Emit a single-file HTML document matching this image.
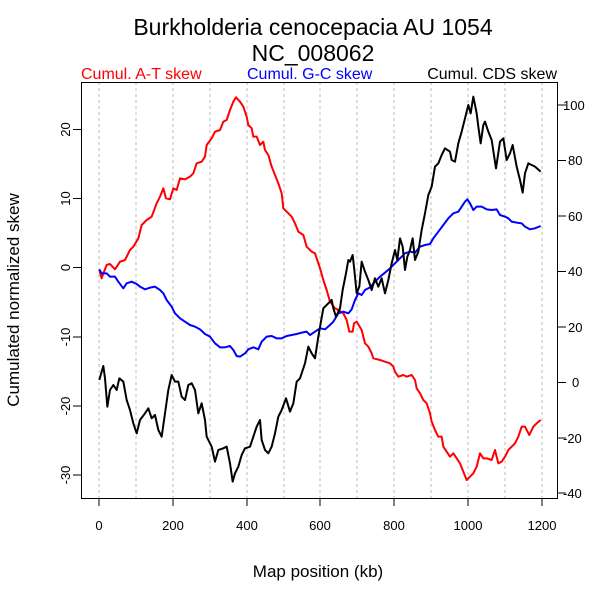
<!DOCTYPE html>
<html><head><meta charset="utf-8"><style>
html,body{margin:0;padding:0;background:#fff}
svg{display:block}
text{font-family:"Liberation Sans",sans-serif}
</style></head><body>
<svg width="600" height="600" viewBox="0 0 600 600">
<rect width="600" height="600" fill="#fff"/>
<g stroke="#bbb" stroke-width="1" stroke-dasharray="3,3">
<line x1="99" y1="82" x2="99" y2="498"/><line x1="136" y1="82" x2="136" y2="498"/><line x1="173" y1="82" x2="173" y2="498"/><line x1="210" y1="82" x2="210" y2="498"/><line x1="247" y1="82" x2="247" y2="498"/><line x1="284" y1="82" x2="284" y2="498"/><line x1="320" y1="82" x2="320" y2="498"/><line x1="357" y1="82" x2="357" y2="498"/><line x1="394" y1="82" x2="394" y2="498"/><line x1="431" y1="82" x2="431" y2="498"/><line x1="468" y1="82" x2="468" y2="498"/><line x1="505" y1="82" x2="505" y2="498"/><line x1="542" y1="82" x2="542" y2="498"/>
</g>
<g transform="translate(60,60) scale(0.33333)" fill="none" stroke-width="6" stroke-linejoin="round">
<polyline stroke="#f00" points="118,630 125,655 130,640 140,615 150,612 165,628 180,605 195,600 210,570 220,560 235,535 245,495 260,480 275,470 290,430 300,410 310,385 318,415 330,418 340,385 350,390 360,355 375,358 390,350 400,340 410,310 425,305 435,290 440,255 455,235 465,215 480,210 490,185 500,180 510,150 520,125 528,112 540,125 550,140 560,170 565,195 575,205 580,230 590,230 600,255 610,245 615,270 625,285 635,320 645,345 655,370 665,400 670,445 685,460 695,470 705,490 715,515 730,525 740,560 755,575 765,580 780,625 790,660 800,690 810,725 825,745 835,750 850,760 860,780 868,815 878,815 882,790 890,785 905,810 915,850 925,860 935,880 940,895 960,900 975,905 990,910 1000,920 1005,935 1015,950 1030,945 1040,950 1055,945 1065,960 1070,985 1080,1000 1090,1020 1100,1030 1110,1060 1115,1085 1125,1110 1135,1130 1145,1130 1150,1160 1160,1175 1170,1190 1180,1180 1190,1195 1200,1210 1210,1235 1220,1260 1230,1250 1240,1240 1250,1220 1260,1180 1270,1195 1280,1195 1295,1200 1305,1170 1315,1210 1325,1205 1335,1190 1345,1170 1355,1160 1365,1150 1375,1130 1385,1100 1395,1100 1408,1125 1420,1100 1430,1090 1442,1080"/>
<polyline stroke="#00f" points="118,628 125,640 140,640 150,650 165,650 175,665 190,685 200,670 215,665 230,672 240,680 255,688 270,683 285,680 300,690 310,700 320,720 335,740 345,760 360,775 375,785 390,795 405,800 420,808 435,822 450,830 465,850 480,862 495,862 510,858 520,870 530,888 540,890 555,880 565,868 580,862 595,868 605,845 620,830 635,828 650,835 665,835 680,828 695,825 710,822 725,818 740,815 750,825 765,815 780,805 795,808 810,795 820,785 835,760 850,755 865,760 875,748 885,720 895,700 905,705 915,690 930,682 945,665 960,650 975,638 990,625 1005,610 1020,595 1035,580 1050,575 1065,578 1080,560 1095,555 1110,552 1120,535 1135,515 1150,495 1165,475 1180,460 1195,455 1205,440 1215,425 1222,418 1230,430 1240,450 1250,440 1265,440 1280,448 1295,450 1310,448 1320,465 1335,470 1345,475 1355,485 1370,488 1385,490 1395,500 1410,508 1425,505 1442,498"/>
<polyline stroke="#000" points="118,960 125,935 130,918 135,955 142,1040 150,990 160,975 170,990 178,955 190,965 200,1020 210,1050 220,1090 230,1120 240,1080 255,1060 265,1045 275,1075 285,1065 295,1110 305,1130 315,1060 325,990 335,945 345,965 355,965 365,1010 375,1020 385,975 395,970 405,990 415,1060 425,1030 435,1080 440,1130 455,1160 465,1205 475,1170 490,1165 500,1160 510,1210 518,1265 525,1240 535,1220 545,1185 555,1165 570,1160 580,1130 590,1100 600,1080 605,1140 615,1170 625,1180 635,1160 645,1120 655,1070 665,1050 678,1015 690,1055 700,1030 710,965 720,955 725,940 735,910 745,860 755,880 765,895 775,830 782,790 790,745 805,730 815,720 820,745 828,770 840,745 848,690 858,640 865,600 870,605 878,585 883,630 890,700 898,680 905,605 915,635 925,660 935,690 945,655 955,680 965,655 975,700 985,660 995,610 1005,570 1012,600 1020,535 1028,560 1035,630 1042,590 1050,570 1058,535 1065,600 1075,575 1085,510 1095,460 1105,405 1115,380 1125,320 1135,310 1145,285 1155,265 1170,275 1175,300 1185,305 1195,250 1205,215 1215,175 1225,135 1232,160 1240,110 1250,160 1255,200 1262,250 1270,195 1275,185 1285,215 1295,240 1308,325 1320,245 1330,235 1340,300 1350,280 1358,255 1370,320 1380,360 1388,398 1395,340 1405,310 1415,315 1425,320 1442,335"/>
</g>
<rect x="81.5" y="82.5" width="476" height="416" fill="none" stroke="#000" stroke-width="1"/>
<g stroke="#000" stroke-width="1">
<line x1="99" y1="498" x2="99" y2="506"/><line x1="173" y1="498" x2="173" y2="506"/><line x1="247" y1="498" x2="247" y2="506"/><line x1="320" y1="498" x2="320" y2="506"/><line x1="394" y1="498" x2="394" y2="506"/><line x1="468" y1="498" x2="468" y2="506"/><line x1="542" y1="498" x2="542" y2="506"/>
<line x1="73" y1="129.5" x2="81" y2="129.5"/><line x1="73" y1="198.5" x2="81" y2="198.5"/><line x1="73" y1="267.5" x2="81" y2="267.5"/><line x1="73" y1="337" x2="81" y2="337"/><line x1="73" y1="406" x2="81" y2="406"/><line x1="73" y1="475" x2="81" y2="475"/>
<line x1="558" y1="105" x2="566" y2="105"/><line x1="558" y1="160.5" x2="566" y2="160.5"/><line x1="558" y1="216" x2="566" y2="216"/><line x1="558" y1="271.5" x2="566" y2="271.5"/><line x1="558" y1="327" x2="566" y2="327"/><line x1="558" y1="382.5" x2="566" y2="382.5"/><line x1="558" y1="438" x2="566" y2="438"/><line x1="558" y1="493" x2="566" y2="493"/>
</g>
<g font-size="13" text-anchor="middle" fill="#000">
<text x="99" y="530">0</text><text x="173" y="530">200</text><text x="247" y="530">400</text><text x="320" y="530">600</text><text x="394" y="530">800</text><text x="468" y="530">1000</text><text x="542" y="530">1200</text>
<text transform="translate(70,129.5) rotate(-90)">20</text><text transform="translate(70,198.5) rotate(-90)">10</text><text transform="translate(70,267.5) rotate(-90)">0</text><text transform="translate(70,337) rotate(-90)">-10</text><text transform="translate(70,406) rotate(-90)">-20</text><text transform="translate(70,475) rotate(-90)">-30</text>
</g>
<g font-size="13" fill="#000">
<text x="563" y="110">100</text><text x="568" y="165">80</text><text x="568" y="221">60</text><text x="568" y="276">40</text><text x="568" y="332">20</text><text x="572" y="387">0</text><text x="563" y="443">-20</text><text x="563" y="498">-40</text>
</g>
<text x="318" y="577" font-size="17" text-anchor="middle">Map position (kb)</text>
<text transform="translate(19,300) rotate(-90)" font-size="17" text-anchor="middle">Cumulated normalized skew</text>
<text x="313" y="35" font-size="23" text-anchor="middle">Burkholderia cenocepacia AU 1054</text>
<text x="313" y="61" font-size="23" text-anchor="middle">NC_008062</text>
<text x="81" y="79" font-size="16" fill="#f00">Cumul. A-T skew</text>
<text x="247" y="79" font-size="16" fill="#00f">Cumul. G-C skew</text>
<text x="557" y="79" font-size="16" fill="#000" text-anchor="end">Cumul. CDS skew</text>
</svg>
</body></html>
